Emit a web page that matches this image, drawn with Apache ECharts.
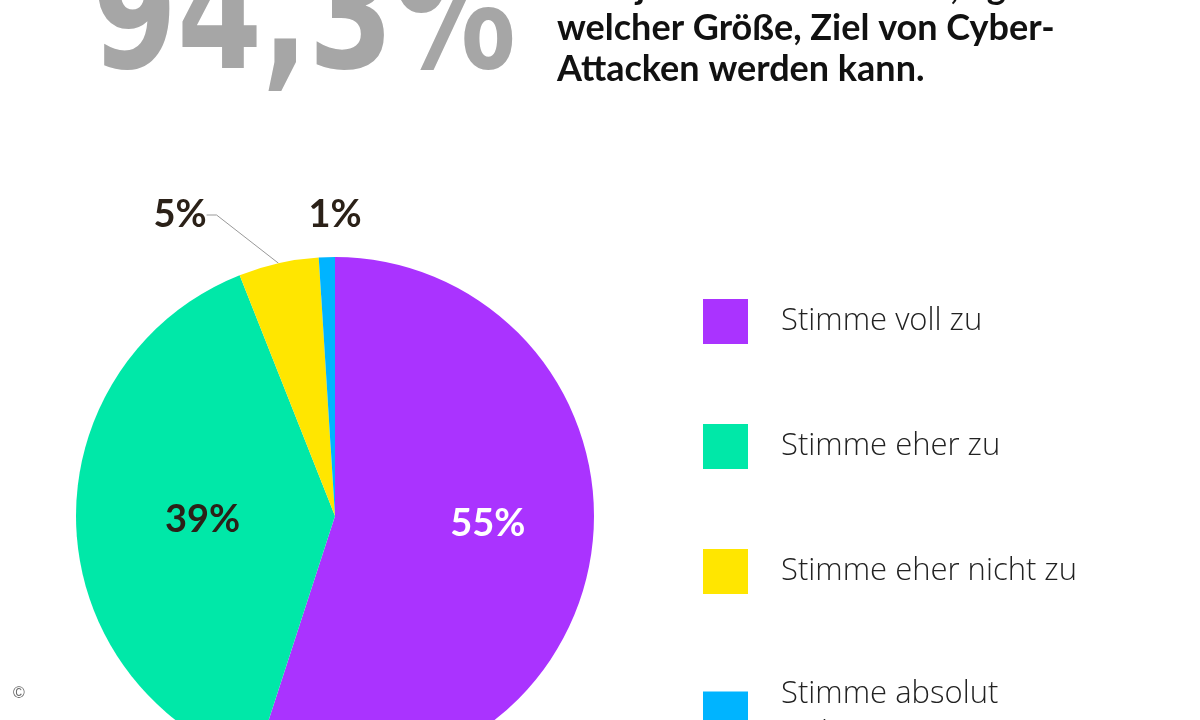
<!DOCTYPE html>
<html><head><meta charset="utf-8">
<script src="https://cdn.jsdelivr.net/npm/echarts@6/dist/echarts.min.js"></script>
<style>html,body{margin:0;background:#fff}#c{width:1200px;height:720px}</style></head>
<body><div id="c"></div>
<script>
const categories = ["Stimme voll zu","Stimme eher zu","Stimme eher nicht zu","Stimme absolut\nnicht zu"];
const values = [55, 39, 5, 1];
const colors = ["#aa33ff","#00e8a8","#ffe600","#00b4ff"];
const headline = "94,3%";
const subtitleLines = ["dass jedes Unternehmen, egal","welcher Größe, Ziel von Cyber-","Attacken werden kann."];

const chart = echarts.init(document.getElementById('c'));
const dark = "#2b2118";
const labelPos = {2:[180,215],3:[335,215]};
chart.setOption({
  backgroundColor:'#fff',
  animation:false,
  graphic:[
    {type:'text',x:92,y:-52,scaleX:0.86,style:{text:headline,fill:'#a6a6a6',font:'bold 158px "DejaVu Sans Condensed", sans-serif'}},
    {type:'text',left:557,top:-33,style:{text:subtitleLines.join('\n'),fill:'#111',lineHeight:41,font:'bold 36px Lato, sans-serif'}},
    {type:'text',left:13,top:686,style:{text:'©',fill:'#666',font:'16px sans-serif'}}
  ],
  legend:{
    orient:'vertical',left:698,top:294,height:700,itemWidth:45,itemHeight:45,itemGap:80,icon:'rect',
    data:categories,
    textStyle:{fontFamily:'"Open Sans", sans-serif',fontWeight:300,fontSize:31,color:'#222',padding:[0,0,0,28],lineHeight:40}
  },
  series:[{
    type:'pie',center:[335,516],radius:259,startAngle:90,clockwise:true,
    color:colors,
    data:categories.map((n,i)=>{
      const d={name:n,value:values[i]};
      if(i===0) d.label={color:'#fff'};
      if(i>=2) d.label={position:'outside',color:dark};
      if(i===2) d.labelLine={show:true,length:10,length2:10,lineStyle:{color:'#999',width:1}};
      return d;
    }),
    label:{show:true,position:'inside',formatter:p=>p.value+'%',fontFamily:'Lato, sans-serif',fontWeight:'bold',fontSize:38,color:dark},
    labelLine:{show:false},
    labelLayout:function(p){
      const pos = labelPos[p.dataIndex];
      if(p.dataIndex===0) return {dx:22,dy:-13};
      if(p.dataIndex===1) return {dx:0,dy:0};
      if(pos) return {x:pos[0],y:pos[1],align:'center',verticalAlign:'middle'};
      return {};
    },
    emphasis:{disabled:true}
  }]
});
</script></body></html>
